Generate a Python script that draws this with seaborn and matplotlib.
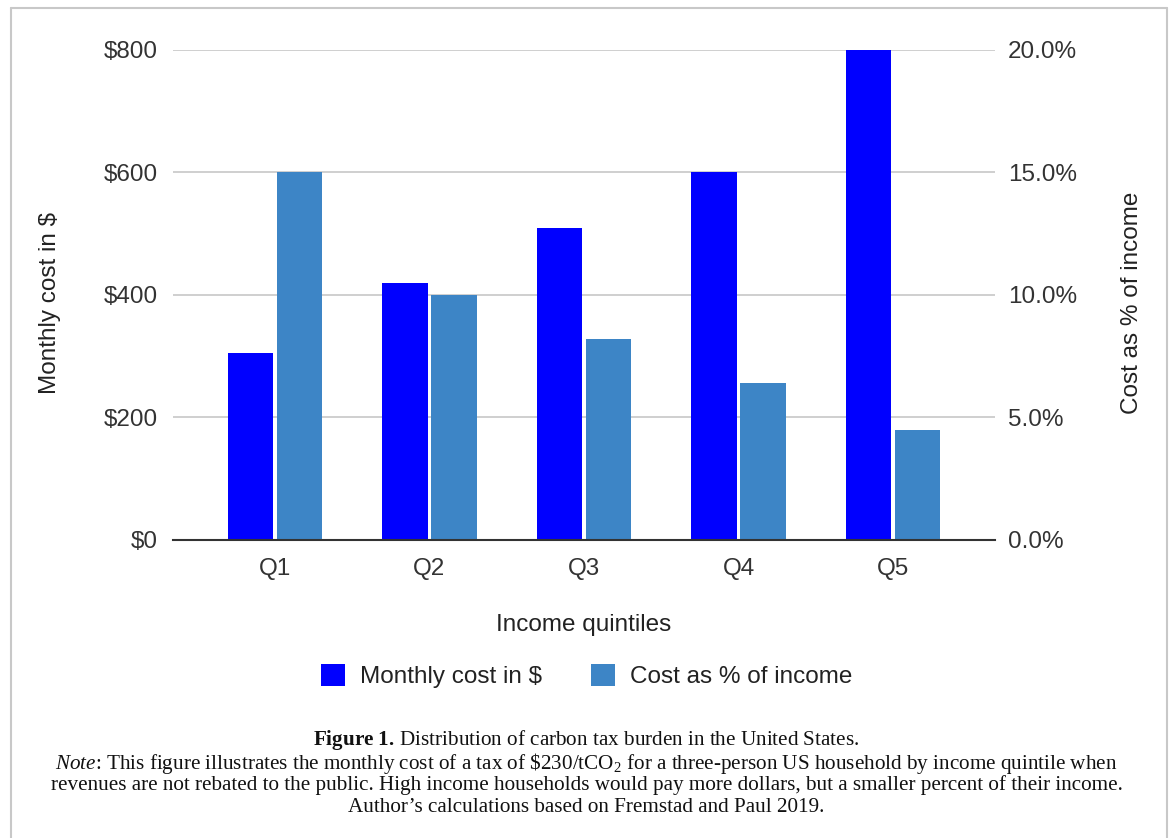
import matplotlib
matplotlib.use("Agg")
import matplotlib.pyplot as plt
from matplotlib.patches import Patch
from matplotlib.lines import Line2D
from matplotlib.ticker import FuncFormatter
import seaborn as sns
import pandas as pd

# Data
quintiles = ["Q1", "Q2", "Q3", "Q4", "Q5"]
monthly_cost = [305, 420, 510, 600, 800]        # $ per month
pct_income = [15.0, 10.0, 8.2, 6.4, 4.5]        # % of income
series_names = ["Monthly cost in $", "Cost as % of income"]
series_colors = ["#0000FF", "#3D85C6"]

sns.set_style("white")
plt.rcParams["font.family"] = ["Liberation Sans", "DejaVu Sans"]
plt.rcParams["mathtext.fontset"] = "custom"
plt.rcParams["mathtext.rm"] = "Liberation Serif"
plt.rcParams["mathtext.it"] = "Liberation Serif:italic"
plt.rcParams["mathtext.bf"] = "Liberation Serif:bold"

cost_df = pd.DataFrame({"quintile": quintiles, "value": monthly_cost,
                        "series": series_names[0]})
pct_df = pd.DataFrame({"quintile": quintiles, "value": pct_income,
                       "series": series_names[1]})

W, H = 1173, 838
fig = plt.figure(figsize=(W / 100, H / 100), dpi=100)
ax = fig.add_axes([173 / W, 1 - 540 / H, (995 - 173) / W, 490 / H])
ax2 = ax.twinx()

palette = dict(zip(series_names, series_colors))
bar_kw = dict(x="quintile", y="value", hue="series", hue_order=series_names,
              order=quintiles, palette=palette, width=0.635, gap=0.07,
              dodge=True, saturation=1, legend=False, linewidth=0)
sns.barplot(data=cost_df, ax=ax, **bar_kw)
sns.barplot(data=pct_df, ax=ax2, **bar_kw)

tick_color = "#333333"
label_size = 17.5

ax.set_xlim(-0.66, 4.66)
ax.set_ylim(0, 800)
ax2.set_ylim(0, 20)
ax.set_yticks([0, 200, 400, 600, 800])
ax2.set_yticks([0, 5, 10, 15, 20])
ax.yaxis.set_major_formatter(FuncFormatter(lambda v, _: f"${v:.0f}"))
ax2.yaxis.set_major_formatter(FuncFormatter(lambda v, _: f"{v:.1f}%"))

ax.set_axisbelow(True)
ax.yaxis.grid(True, color="#cccccc", linewidth=1.3)
ax.xaxis.grid(False)

for a in (ax, ax2):
    for s in a.spines.values():
        s.set_visible(False)
    a.tick_params(length=0, labelsize=label_size, colors=tick_color)
ax2.spines["bottom"].set_visible(True)
ax2.spines["bottom"].set_color("#333333")
ax2.spines["bottom"].set_linewidth(1.5)

ax.tick_params(axis="x", pad=13)
ax.tick_params(axis="y", pad=11)
ax2.tick_params(axis="y", pad=9.5)

ax.set_xlabel("Income quintiles", fontsize=label_size, color="#222222")
ax.xaxis.set_label_coords(0.5, -(614 - 540) / 490)
ax.set_ylabel("Monthly cost in $", fontsize=label_size, color="#222222")
ax2.set_ylabel("Cost as % of income", fontsize=label_size, color="#222222")
ax.yaxis.set_label_coords((61 - 173) / (995 - 173), (540 - 303) / 490)
ax2.yaxis.set_label_coords((1121 - 173) / (995 - 173), (540 - 303) / 490)
ax2.set_xlabel("")

handles = [Patch(facecolor=c, edgecolor="none") for c in series_colors]
fig.legend(handles, series_names, loc="center", bbox_to_anchor=(0.5, 1 - 676 / H),
           ncol=2, frameon=False, fontsize=label_size, handlelength=1.0,
           handleheight=1.0, handletextpad=0.6, columnspacing=2.0,
           labelcolor="#222222")

# Caption
cap_kw = dict(ha="center", va="center", fontsize=15.2, color="#111111",
              family=["Liberation Serif", "DejaVu Serif"])
fig.text(0.5, 1 - 740 / H,
         r"$\mathbf{Figure\ 1.}\,$Distribution of carbon tax burden in the United States.",
         **cap_kw)
fig.text(0.5, 1 - 763 / H,
         r"$\mathit{Note}$: This figure illustrates the monthly cost of a tax of \$230/tCO$_2$"
         " for a three-person US household by income quintile when", **cap_kw)
fig.text(0.5, 1 - 785 / H,
         "revenues are not rebated to the public. High income households would pay more "
         "dollars, but a smaller percent of their income.", **cap_kw)
fig.text(0.5, 1 - 807 / H,
         "Author\u2019s calculations based on Fremstad and Paul 2019.", **cap_kw)

# Outer frame
frame_kw = dict(color="#c8c8c8", linewidth=1.5, transform=fig.transFigure)
fig.add_artist(Line2D([11 / W, 11 / W], [0, 1 - 8 / H], **frame_kw))
fig.add_artist(Line2D([1167 / W, 1167 / W], [0, 1 - 8 / H], **frame_kw))
fig.add_artist(Line2D([11 / W, 1167 / W], [1 - 8 / H, 1 - 8 / H], **frame_kw))

fig.savefig("out.png", dpi=100)
